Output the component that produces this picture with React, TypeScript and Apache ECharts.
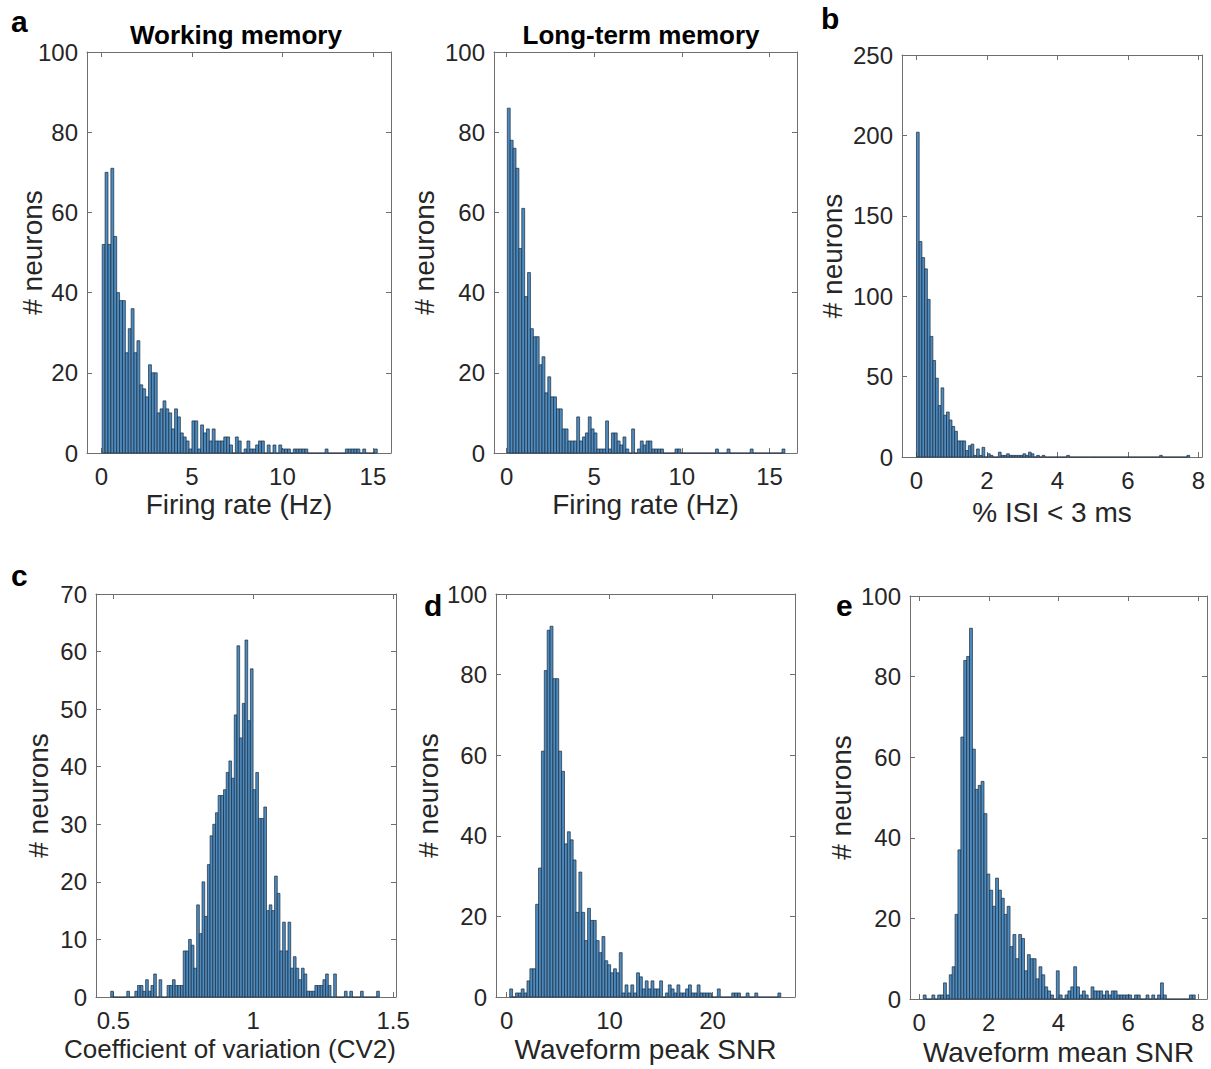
import React, { useEffect, useRef } from "react";
import * as echarts from "echarts";

// ---- Data (bin counts) ----
const wmStart = 0.04;
const wmWidth = 0.16;
const wmCounts = [52,70,52,71,54,40,38,38,25,31,36,25,28,17,16,14,22,20,20,10,11,13,11,10,6,11,9,5,4,3,1,8,8,1,7,5,6,3,6,3,3,3,4,4,2,0,4,3,0,1,3,1,1,2,3,3,0,2,0,2,0,2,1,1,1,0,1,1,1,1,1,0,0,0,0,0,0,1,0,0,0,0,0,0,1,1,1,1,1,0,1,0,0,0,1];

const ltmStart = 0.04;
const ltmWidth = 0.165;
const ltmCounts = [86,78,76,71,51,61,39,45,31,29,29,22,24,15,19,14,14,11,11,6,6,3,3,3,9,3,4,5,9,6,5,1,1,1,8,1,5,5,3,2,4,1,0,6,0,1,3,2,3,3,1,1,1,1,0,0,0,0,1,1,0,0,0,0,0,0,0,0,0,0,0,0,1,0,0,0,1,0,0,0,0,0,0,0,1,0,0,0,0,0,0,0,0,0,0,1];

const isiStart = 0;
const isiWidth = 0.0775;
const isiCounts = [202,134,124,117,98,75,60,49,32,43,26,28,23,19,16,10,10,10,4,7,8,1,5,1,6,0,2,1,0,0,3,1,1,2,1,1,1,1,1,2,1,3,2,0,1,0,1,0,0,0,0,0,0,0,0,1,0,0,0,0,0,0,0,0,0,0,0,0,0,0,0,0,0,0,0,0,0,0,0,0,0,0,0,0,0,0,0,0,0,1,0,0,0,0,0,0,0,0,0,1];

const cvStart = 0.4905;
const cvWidth = 0.0096;
const cvCounts = [1,0,0,0,0,0,1,0,0,1,2,2,1,3,1,2,4,0,3,0,0,2,2,3,2,2,2,8,8,10,9,5,16,11,20,14,23,28,30,32,35,35,36,39,41,38,49,61,45,51,62,48,57,36,39,31,31,33,15,16,15,21,18,8,13,8,13,5,7,5,3,5,4,1,1,1,2,2,2,3,4,2,0,4,0,0,0,1,0,1,0,0,0,1,0,0,0,0,0,1];

const peakStart = 0.3;
const peakWidth = 0.28;
const peakCounts = [2,0,1,1,2,1,4,7,7,23,32,61,81,91,92,79,79,61,56,38,41,39,34,21,31,21,14,22,19,19,14,11,15,9,8,6,7,6,11,1,3,1,3,1,6,5,2,4,2,4,2,2,4,0,1,3,2,1,3,1,1,2,3,1,1,3,1,1,1,1,0,0,2,0,0,0,0,1,1,1,0,0,1,0,0,1,0,0,0,0,0,0,0,1];

const meanStart = 0.12;
const meanWidth = 0.083;
const meanCounts = [1,0,0,1,0,1,1,4,1,6,8,21,37,65,84,85,92,62,52,53,54,46,31,27,23,30,27,25,21,23,13,16,10,16,15,7,11,10,10,5,8,6,3,2,1,0,7,1,0,1,2,3,8,3,1,2,1,0,3,2,2,2,1,2,1,2,2,1,1,1,1,1,0,1,1,0,0,1,0,1,0,1,4,1,0,0,0,0,0,0,0,0,1,1];

// tick labels
const wmXTicks = [0, 5, 10, 15];
const ltmXTicks = [0, 5, 10, 15];
const isiXTicks = [0, 2, 4, 6, 8];
const cvXTicks = [0.5, 1, 1.5];
const peakXTicks = [0, 10, 20];
const meanXTicks = [0, 2, 4, 6, 8];

const FONT = "'Liberation Sans', Arial, Helvetica, sans-serif";
const AXIS_COLOR = "#6f6f6f";
const TEXT_COLOR = "#262626";

type Panel = {
  start: number; width: number; counts: number[];
  xTicks: number[]; xMin: number; xMax: number;
  yMax: number; yInterval: number;
  xName: string; xNameSize: number; xNameShift: number; yNameGap: number; xNameGap: number;
  grid: { left: number; top: number; width: number; height: number };
};

const panels: Panel[] = [
  { start: wmStart, width: wmWidth, counts: wmCounts, xTicks: wmXTicks, xMin: -0.8, xMax: 16, yMax: 100, yInterval: 20,
    xName: "Firing rate (Hz)", xNameSize: 28, xNameShift: 0, yNameGap: 41, xNameGap: 37, grid: { left: 87, top: 52, width: 304, height: 401 } },
  { start: ltmStart, width: ltmWidth, counts: ltmCounts, xTicks: ltmXTicks, xMin: -0.72, xMax: 16.57, yMax: 100, yInterval: 20,
    xName: "Firing rate (Hz)", xNameSize: 28, xNameShift: 0, yNameGap: 56, xNameGap: 37, grid: { left: 494, top: 52, width: 303, height: 401 } },
  { start: isiStart, width: isiWidth, counts: isiCounts, xTicks: isiXTicks, xMin: -0.41, xMax: 8.1, yMax: 250, yInterval: 50,
    xName: "% ISI < 3 ms", xNameSize: 28, xNameShift: 0, yNameGap: 56, xNameGap: 41, grid: { left: 902, top: 55, width: 300, height: 402 } },
  { start: cvStart, width: cvWidth, counts: cvCounts, xTicks: cvXTicks, xMin: 0.438, xMax: 1.51, yMax: 70, yInterval: 10,
    xName: "Coefficient of variation (CV2)", xNameSize: 26, xNameShift: 16, yNameGap: 44, xNameGap: 39, grid: { left: 96, top: 594, width: 300, height: 403 } },
  { start: peakStart, width: peakWidth, counts: peakCounts, xTicks: peakXTicks, xMin: -1.03, xMax: 28.0, yMax: 100, yInterval: 20,
    xName: "Waveform peak SNR", xNameSize: 28, xNameShift: 0, yNameGap: 54, xNameGap: 38, grid: { left: 496, top: 594, width: 299, height: 403 } },
  { start: meanStart, width: meanWidth, counts: meanCounts, xTicks: meanXTicks, xMin: -0.26, xMax: 8.26, yMax: 100, yInterval: 20,
    xName: "Waveform mean SNR", xNameSize: 28, xNameShift: 0, yNameGap: 55, xNameGap: 39, grid: { left: 910, top: 596, width: 297, height: 403 } },
];

function buildOption() {
  const grid: any[] = [];
  const xAxis: any[] = [];
  const yAxis: any[] = [];
  const series: any[] = [];
  panels.forEach((p, i) => {
    grid.push({ ...p.grid, containLabel: false, outerBoundsMode: "none" });
    const common = {
      gridIndex: i,
      type: "value",
      min: p.xMin,
      max: p.xMax,
      splitLine: { show: false },
      axisLine: { show: true, onZero: false, lineStyle: { color: AXIS_COLOR, width: 1 } },
      axisTick: { show: true, inside: true, length: 5, customValues: p.xTicks, lineStyle: { color: AXIS_COLOR } },
    };
    xAxis.push({
      ...common,
      position: "bottom",
      name: p.xName,
      nameLocation: "middle",
      nameGap: p.xNameGap,
      nameMoveOverlap: false,
      nameTextStyle: {
        fontFamily: FONT, fontSize: p.xNameSize, color: TEXT_COLOR,
        padding: [0, 2 * p.xNameShift, 0, 0],
      },
      axisLabel: { show: true, customValues: p.xTicks, margin: 11, fontFamily: FONT, fontSize: 24, color: TEXT_COLOR },
    });
    xAxis.push({ ...common, position: "top", axisLabel: { show: false } });
    const ycommon = {
      gridIndex: i,
      type: "value",
      min: 0,
      max: p.yMax,
      interval: p.yInterval,
      splitLine: { show: false },
      axisLine: { show: true, onZero: false, lineStyle: { color: AXIS_COLOR, width: 1 } },
      axisTick: { show: true, inside: true, length: 5, lineStyle: { color: AXIS_COLOR } },
    };
    yAxis.push({
      ...ycommon,
      position: "left",
      name: "# neurons",
      nameLocation: "middle",
      nameGap: p.yNameGap,
      nameMoveOverlap: false,
      nameTextStyle: { fontFamily: FONT, fontSize: 28, color: TEXT_COLOR },
      axisLabel: { show: true, margin: 9, fontFamily: FONT, fontSize: 24, color: TEXT_COLOR },
    });
    yAxis.push({ ...ycommon, position: "right", axisLabel: { show: false } });

    const data = p.counts.map((c, k) => [p.start + k * p.width, p.start + (k + 1) * p.width, c]);
    series.push({
      type: "custom",
      xAxisIndex: 2 * i,
      yAxisIndex: 2 * i,
      data,
      encode: { x: [0, 1], y: 2 },
      renderItem: (params: any, api: any) => {
        const a = api.coord([api.value(0), api.value(2)]);
        const b = api.coord([api.value(1), 0]);
        return {
          type: "rect",
          shape: { x: a[0], y: a[1], width: b[0] - a[0], height: b[1] - a[1] },
          style: { fill: "#4e8bbf", stroke: "#1a2b3d", lineWidth: 0.7 },
        };
      },
    });
  });

  const letter = (t: string, x: number, y: number) => ({
    type: "text", left: x, top: y,
    style: { text: t, fontFamily: FONT, fontWeight: "bold", fontSize: 30, fill: "#000" },
  });
  const title = (t: string, cx: number, cy: number) => ({
    type: "text", x: cx, y: cy,
    style: { text: t, fontFamily: FONT, fontWeight: "bold", fontSize: 26, fill: "#000", align: "center", verticalAlign: "middle" },
  });

  return {
    animation: false,
    backgroundColor: "#ffffff",
    grid, xAxis, yAxis, series,
    graphic: [
      letter("a", 11, 6),
      letter("b", 821, 3),
      letter("c", 11, 560),
      letter("d", 424, 590),
      letter("e", 836, 590),
      title("Working memory", 236, 35),
      title("Long-term memory", 641, 35),
    ],
  };
}

export default function App() {
  const ref = useRef<HTMLDivElement>(null);
  useEffect(() => {
    if (!ref.current) return;
    const chart = echarts.init(ref.current, undefined, { renderer: "svg" });
    chart.setOption(buildOption() as any);
    return () => chart.dispose();
  }, []);
  return (
    <div
      ref={ref}
      style={{ position: "absolute", left: 0, top: 0, width: 1211, height: 1069, background: "#fff" }}
    />
  );
}
